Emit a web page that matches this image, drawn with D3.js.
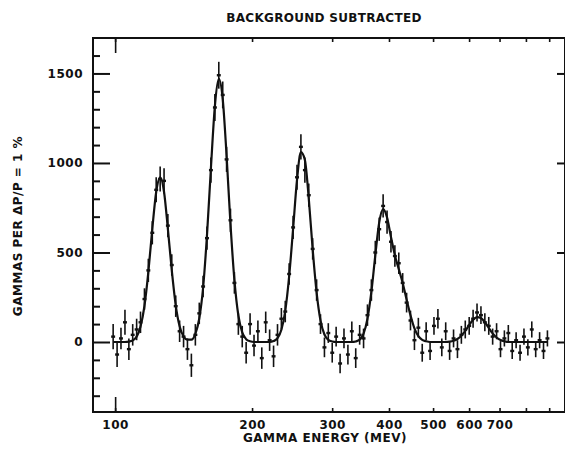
<!DOCTYPE html>
<html>
<head>
<meta charset="utf-8">
<script src="https://cdn.jsdelivr.net/npm/d3@7/dist/d3.min.js"></script>
<style>
  html, body { margin: 0; padding: 0; background: #fff; }
  svg { display: block; }
  text { font-family: "DejaVu Sans", "Liberation Sans", sans-serif; font-weight: bold; fill: #111; }
</style>
</head>
<body>
<script>
// ---- data ----
const energies = [99,101,103,105.1,107.2,109.3,111.5,113.7,116,118.3,120.7,123.1,125.6,128.1,130.6,133.2,135.9,138.6,141.4,144.2,147.1,150.1,153.1,156.1,159.2,162.4,165.7,169,172.4,175.8,179.3,182.9,186.6,190.3,194.1,198,202,206,210.1,214.3,218.6,223,227.5,232,236.6,241.3,246.2,251.1,256.1,261.3,266.5,271.8,277.3,282.8,288.5,294.2,300.1,306.1,312.3,318.5,324.9,331.4,338,344.8,351.7,358.7,365.9,373.2,380.7,388.3,396.1,404,412.1,420.3,428.7,437.3,446,455,464.1,473.3,482.8,492.5,502.3,512.4,522.6,533,543.7,554.6,565.7,577,588.5,600.3,612.3,624.6,637.1,649.8,662.8,676,689.6,703.4,717.4,731.8,746.4,761.3,776.6,792.1,807.9,824.1,840.6,857.4,874.5,892];
const counts = [30,-70,20,110,-40,40,70,110,240,400,610,850,910,900,650,430,200,60,30,-40,-130,40,160,310,580,960,1310,1490,1380,1020,680,330,100,30,-60,100,-20,60,-90,110,10,-80,40,130,170,380,640,920,1090,960,820,520,290,100,-30,50,-60,30,-120,20,-70,60,-90,40,20,150,290,500,630,760,670,560,480,440,330,220,120,10,80,-60,60,-50,90,130,-30,60,-50,20,-40,40,70,90,130,165,150,110,90,30,60,-40,20,50,-50,10,-60,30,-30,70,-40,10,-50,20];
const errors = [70,70,60,70,60,60,60,60,60,65,65,70,70,70,65,60,60,60,60,60,65,60,60,60,65,70,75,75,75,70,65,60,60,60,60,60,60,60,60,60,60,60,60,60,60,60,65,70,70,70,65,60,60,55,55,55,55,55,55,55,55,55,55,55,55,60,60,65,65,65,65,60,60,60,55,55,55,55,55,50,50,50,50,55,50,50,50,50,50,50,50,50,50,50,50,50,50,45,45,45,45,45,45,45,45,45,45,45,45,45,45,45];
const fitCurve = [0,0,0,0,2,9,30,86,201,390,632,838,920,838,632,401,205,88,31,13,13,46,131,303,597,972,1319,1470,1357,1040,659,347,148,54,16,4,0,0,0,0,0,5,21,68,174,366,634,905,1060,1017,801,519,276,120,42,12,3,0,0,0,0,0,3,13,47,130,281,484,668,743,695,587,485,407,330,237,149,76,33,12,4,0,0,0,0,0,2,7,17,35,62,95,124,139,134,111,79,48,25,11,4,0,0,0,0,0,0,0,0,0,0,0];
const xTickValues = [100,200,300,400,500,600,700,800,900];
const xTickLabels = ["100","200","300","400","500","600","700","",""];
const yMajorTicks = [0,500,1000,1500];
const yMinorTicks = [-300,-200,-100,100,200,300,400,600,700,800,900,1100,1200,1300,1400,1600];

const W = 565, H = 449;
const L = 93, R = 565, T = 38, B = 412;

const svg = d3.select("body").append("svg").attr("width", W).attr("height", H);

const x = d3.scaleLog().domain([89.4, 975]).range([L, R]);
const y = d3.scaleLinear().domain([-391, 1698]).range([B, T]);

// frame
svg.append("rect").attr("x", L).attr("y", T).attr("width", R - L).attr("height", B - T)
  .attr("fill", "none").attr("stroke", "#111").attr("stroke-width", 2);

// left axis (ticks inward)
const gl = svg.append("g").attr("transform", `translate(${L},0)`);
gl.call(d3.axisRight(y).tickValues(yMinorTicks).tickSize(7).tickFormat(""));
gl.append("g").call(d3.axisRight(y).tickValues(yMajorTicks).tickSize(17).tickFormat(""));
gl.selectAll(".domain").remove();
gl.selectAll("line").attr("stroke", "#111").attr("stroke-width", 2);
// left labels
svg.append("g").attr("transform", `translate(${L},0)`)
  .call(d3.axisLeft(y).tickValues(yMajorTicks).tickSize(0).tickPadding(10).tickFormat(d3.format("d")))
  .call(g => g.select(".domain").remove())
  .selectAll("text").style("font-size", "12px").style("letter-spacing", "0.5px")
  .style("font-family", "'DejaVu Sans', sans-serif").style("font-weight", "bold");

// right axis ticks inward
const gr = svg.append("g").attr("transform", `translate(${R},0)`)
  .call(d3.axisLeft(y).tickValues(yMajorTicks).tickSize(8).tickFormat(""));
gr.select(".domain").remove();
gr.selectAll("line").attr("stroke", "#111").attr("stroke-width", 2);

// bottom axis
const gb = svg.append("g").attr("transform", `translate(0,${B})`);
gb.call(d3.axisTop(x).tickValues(xTickValues).tickSize(4).tickFormat(""));
gb.append("g").call(d3.axisTop(x).tickValues([100]).tickSize(15).tickFormat(""));
gb.selectAll(".domain").remove();
gb.selectAll("line").attr("stroke", "#111").attr("stroke-width", 1.6);
svg.append("g").attr("transform", `translate(0,${B})`)
  .call(d3.axisBottom(x).tickValues(xTickValues).tickSize(0).tickPadding(8)
    .tickFormat((d, i) => xTickLabels[i]))
  .call(g => g.select(".domain").remove())
  .selectAll("text").style("font-size", "12px").style("letter-spacing", "0.5px")
  .style("font-family", "'DejaVu Sans', sans-serif").style("font-weight", "bold");

// top axis
const gt = svg.append("g").attr("transform", `translate(0,${T})`);
gt.call(d3.axisBottom(x).tickValues(xTickValues).tickSize(4).tickFormat(""));
gt.append("g").call(d3.axisBottom(x).tickValues([100]).tickSize(15).tickFormat(""));
gt.selectAll(".domain").remove();
gt.selectAll("line").attr("stroke", "#111").attr("stroke-width", 1.6);

// titles
svg.append("text").attr("x", 324).attr("y", 22).attr("text-anchor", "middle")
  .style("font-size", "12px").style("letter-spacing", "0.3px").text("BACKGROUND SUBTRACTED");
svg.append("text").attr("x", 325).attr("y", 442).attr("text-anchor", "middle")
  .style("font-size", "12px").style("letter-spacing", "0.5px").text("GAMMA ENERGY (MEV)");
svg.append("text").attr("transform", "translate(22,226) rotate(-90)").attr("text-anchor", "middle")
  .style("font-size", "12px").style("letter-spacing", "0.5px").text("GAMMAS PER ΔP/P = 1 %");

// data points with error bars
const pts = energies.map((e, i) => ({ e, c: counts[i], s: errors[i], f: fitCurve[i] }));
const gd = svg.append("g").attr("stroke", "#111");
gd.selectAll("line.eb").data(pts).join("line").attr("class", "eb")
  .attr("x1", d => x(d.e)).attr("x2", d => x(d.e))
  .attr("y1", d => y(d.c - d.s)).attr("y2", d => y(d.c + d.s))
  .attr("stroke-width", 1.6);
gd.selectAll("line.bw").data(pts).join("line").attr("class", "bw")
  .attr("x1", d => x(d.e / 1.01)).attr("x2", d => x(d.e * 1.01))
  .attr("y1", d => y(d.c)).attr("y2", d => y(d.c))
  .attr("stroke-width", 2.4);

// fitted curve
svg.append("path").datum(pts)
  .attr("fill", "none").attr("stroke", "#111").attr("stroke-width", 2.2)
  .attr("d", d3.line().x(d => x(d.e)).y(d => y(d.f)).curve(d3.curveMonotoneX));
</script>
</body>
</html>
